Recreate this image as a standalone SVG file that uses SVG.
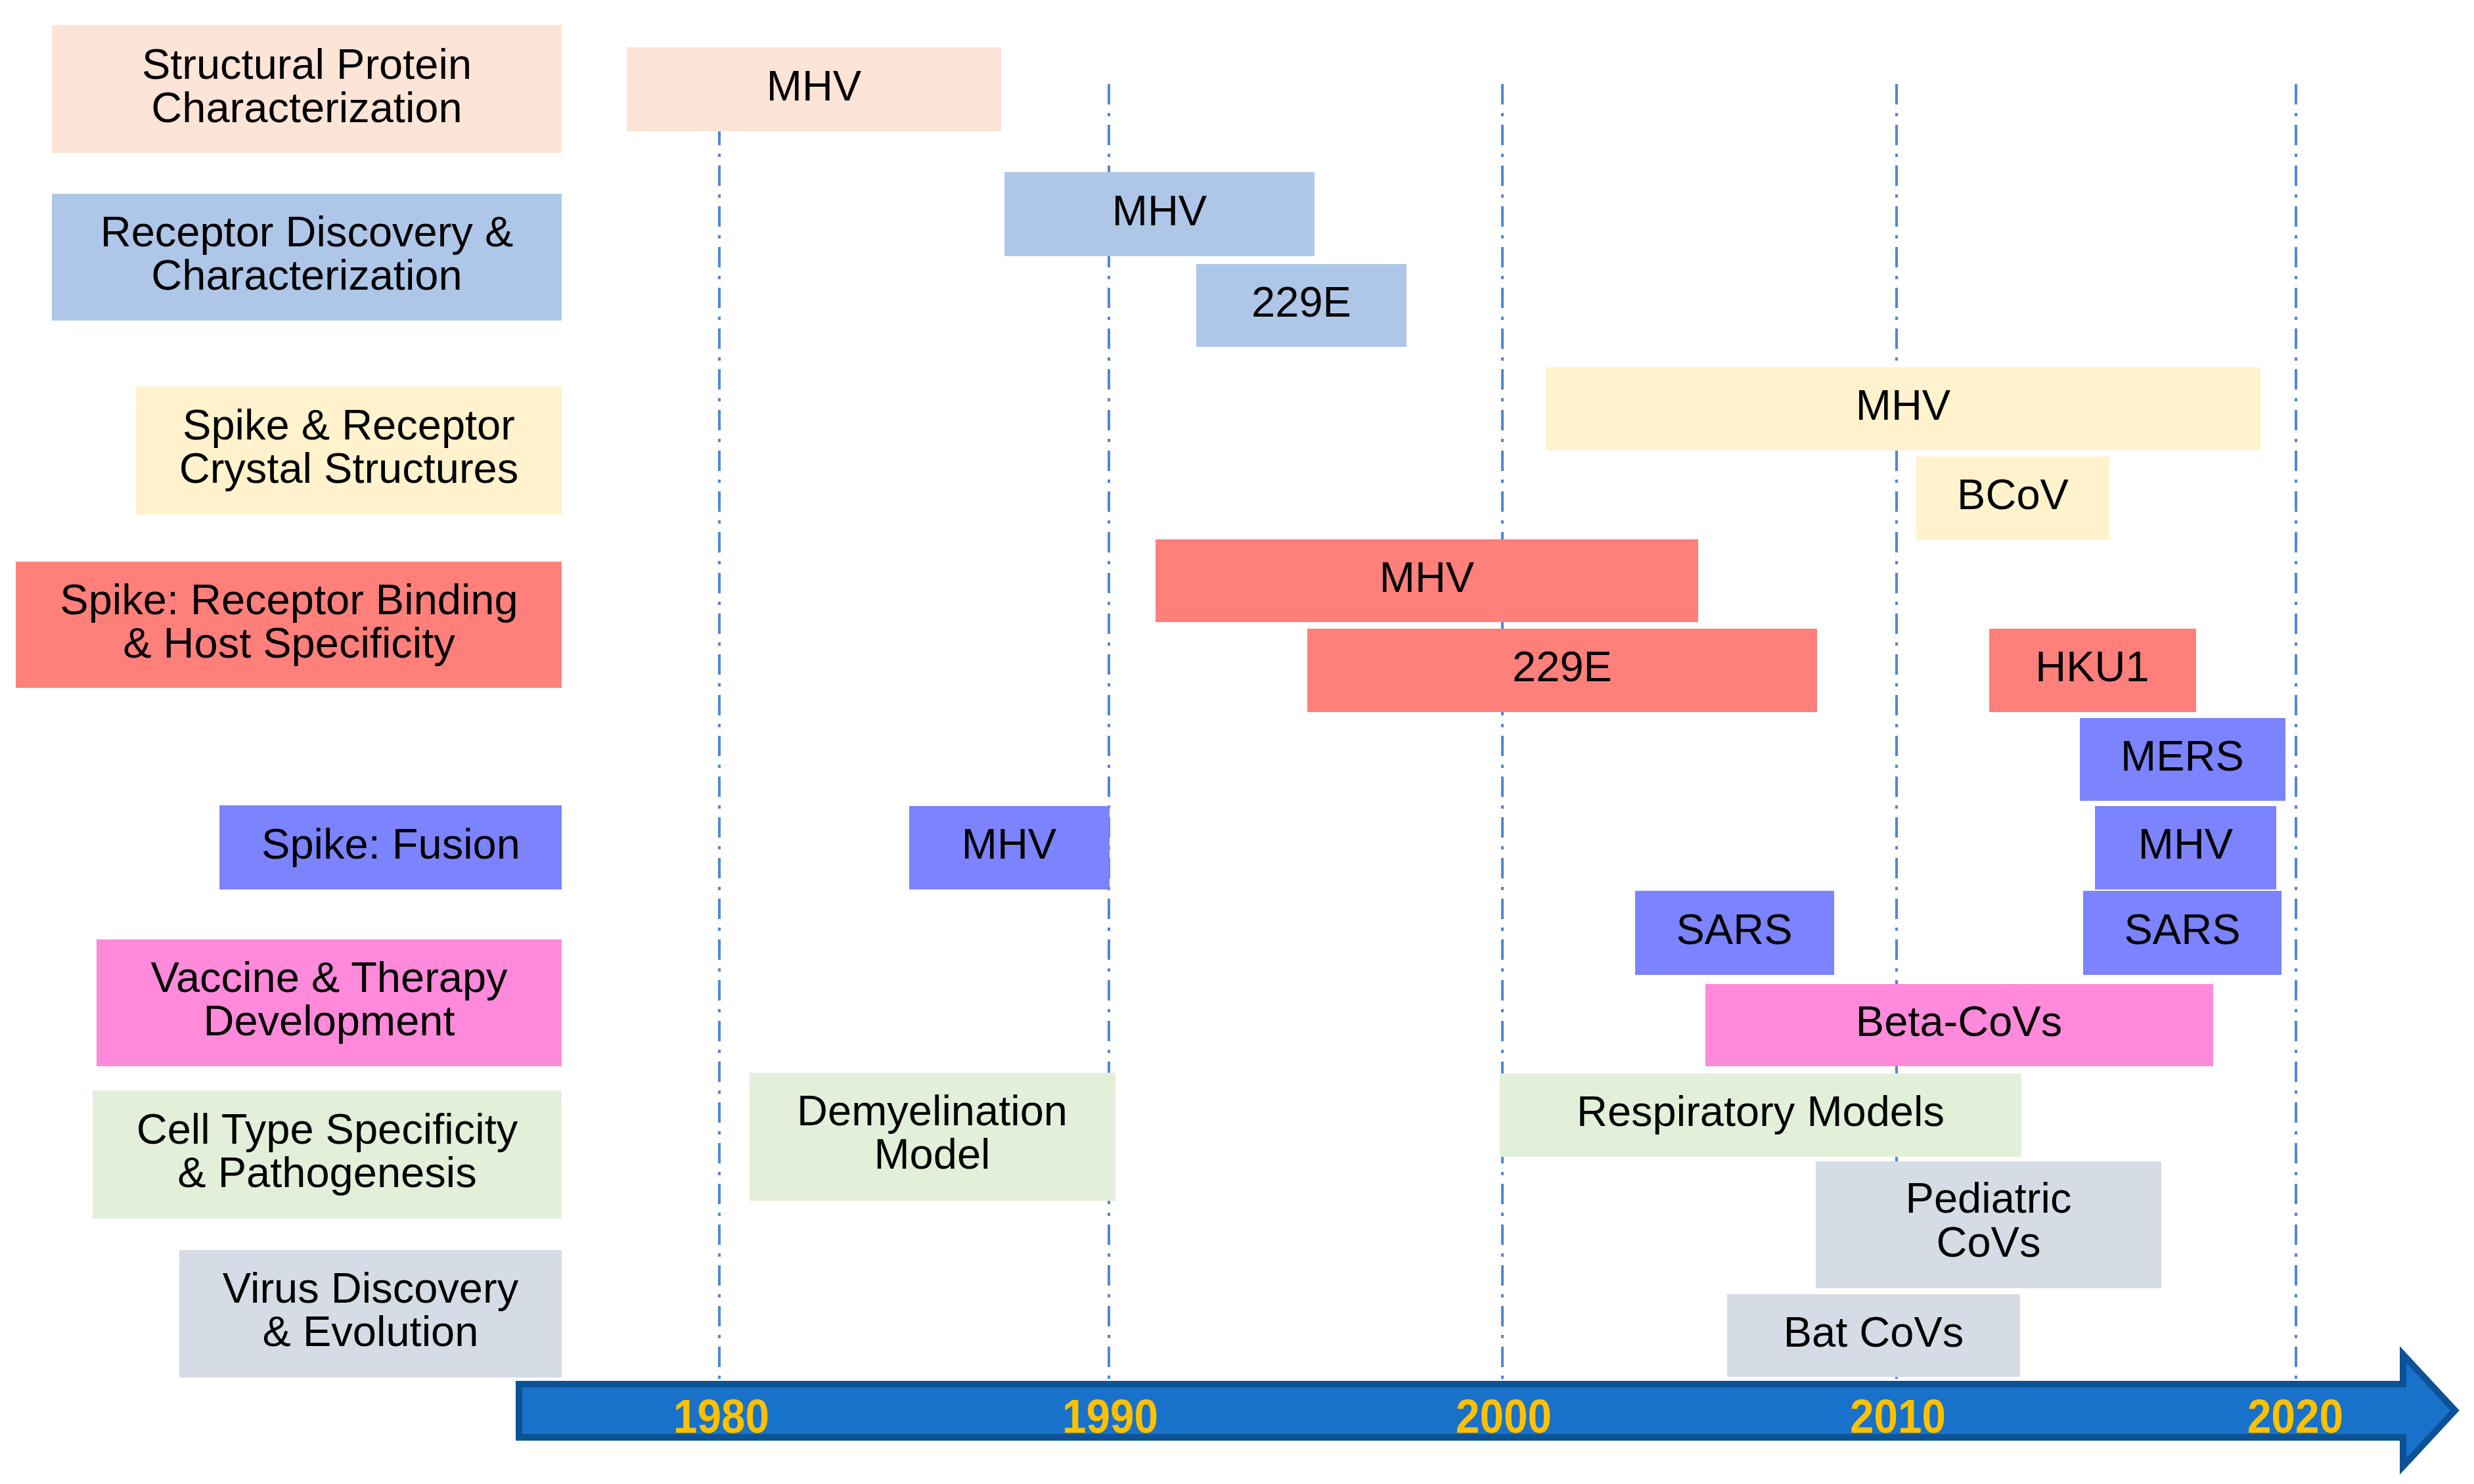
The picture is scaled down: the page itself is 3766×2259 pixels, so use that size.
<svg xmlns="http://www.w3.org/2000/svg" width="3766" height="2259" viewBox="0 0 3766 2259">
<style>
  text { font-family: "Liberation Sans", Arial, sans-serif; font-size: 65px; fill: #000; text-anchor: middle; }
  .yr { font-weight: bold; font-size: 72px; fill: #FFC000; }
  .grid { stroke: #4F87D8; stroke-width: 4; stroke-dasharray: 31 13 5 13; fill: none; }
  .peach { fill: #FCE4D6; }
  .lblue { fill: #AEC7E9; }
  .yellow { fill: #FFF2CC; }
  .red { fill: #FF7F7B; }
  .violet { fill: #7C83FE; }
  .pink { fill: #FF89DA; }
  .green { fill: #E2F0D9; }
  .gray { fill: #D6DCE5; }
</style>
<rect width="3766" height="2259" fill="#FFFFFF"/>

<g id="gridlines">
  <line class="grid" x1="1095" y1="128" x2="1095" y2="2102"/>
  <line class="grid" x1="1688" y1="128" x2="1688" y2="2102"/>
  <line class="grid" x1="2287" y1="128" x2="2287" y2="2102"/>
  <line class="grid" x1="2887" y1="128" x2="2887" y2="2102"/>
  <line class="grid" x1="3495" y1="128" x2="3495" y2="2102"/>
</g>

<g id="timeline-arrow">
  <polygon points="790,2107 3658,2107 3658,2062 3737,2147 3658,2232 3658,2188 790,2188" fill="#1872C9" stroke="#0C5296" stroke-width="10" stroke-linejoin="miter"/>
  <text class="yr" x="1098" y="2181" textLength="146" lengthAdjust="spacingAndGlyphs">1980</text>
  <text class="yr" x="1690" y="2181" textLength="146" lengthAdjust="spacingAndGlyphs">1990</text>
  <text class="yr" x="2289" y="2181" textLength="146" lengthAdjust="spacingAndGlyphs">2000</text>
  <text class="yr" x="2889" y="2181" textLength="146" lengthAdjust="spacingAndGlyphs">2010</text>
  <text class="yr" x="3494" y="2181" textLength="146" lengthAdjust="spacingAndGlyphs">2020</text>
</g>

<g id="cat-structural">
  <rect class="peach" x="79" y="38" width="776" height="195"/>
  <text x="467" y="120">Structural Protein</text>
  <text x="467" y="186">Characterization</text>
</g>
<g id="cat-receptor">
  <rect class="lblue" x="79" y="295" width="776" height="193"/>
  <text x="467" y="375">Receptor Discovery &amp;</text>
  <text x="467" y="441">Characterization</text>
</g>
<g id="cat-crystal">
  <rect class="yellow" x="207" y="588" width="648" height="195"/>
  <text x="531" y="669">Spike &amp; Receptor</text>
  <text x="531" y="735">Crystal Structures</text>
</g>
<g id="cat-binding">
  <rect class="red" x="24" y="855" width="831" height="192"/>
  <text x="440" y="935">Spike: Receptor Binding</text>
  <text x="440" y="1001">&amp; Host Specificity</text>
</g>
<g id="cat-fusion">
  <rect class="violet" x="334" y="1226" width="521" height="128"/>
  <text x="595" y="1307">Spike: Fusion</text>
</g>
<g id="cat-vaccine">
  <rect class="pink" x="147" y="1430" width="708" height="193"/>
  <text x="501" y="1510">Vaccine &amp; Therapy</text>
  <text x="501" y="1576">Development</text>
</g>
<g id="cat-celltype">
  <rect class="green" x="141" y="1660" width="714" height="195"/>
  <text x="498" y="1741">Cell Type Specificity</text>
  <text x="498" y="1807">&amp; Pathogenesis</text>
</g>
<g id="cat-virus">
  <rect class="gray" x="273" y="1903" width="582" height="194"/>
  <text x="564" y="1983">Virus Discovery</text>
  <text x="564" y="2049">&amp; Evolution</text>
</g>

<g id="bar-structural-mhv">
  <rect class="peach" x="954" y="72" width="570" height="128"/>
  <text x="1239" y="153">MHV</text>
</g>
<g id="bar-receptor-mhv">
  <rect class="lblue" x="1529" y="262" width="472" height="128"/>
  <text x="1765" y="343">MHV</text>
</g>
<g id="bar-receptor-229e">
  <rect class="lblue" x="1821" y="402" width="320" height="126"/>
  <text x="1981" y="482">229E</text>
</g>
<g id="bar-crystal-mhv">
  <rect class="yellow" x="2353" y="559" width="1088" height="126"/>
  <text x="2897" y="639">MHV</text>
</g>
<g id="bar-crystal-bcov">
  <rect class="yellow" x="2917" y="695" width="294" height="127"/>
  <text x="3064" y="775">BCoV</text>
</g>
<g id="bar-binding-mhv">
  <rect class="red" x="1759" y="821" width="826" height="126"/>
  <text x="2172" y="901">MHV</text>
</g>
<g id="bar-binding-229e">
  <rect class="red" x="1990" y="957" width="776" height="127"/>
  <text x="2378" y="1037">229E</text>
</g>
<g id="bar-binding-hku1">
  <rect class="red" x="3028" y="957" width="315" height="127"/>
  <text x="3185" y="1037">HKU1</text>
</g>
<g id="bar-fusion-mers">
  <rect class="violet" x="3166" y="1093" width="313" height="126"/>
  <text x="3322" y="1173">MERS</text>
</g>
<g id="bar-fusion-mhv-early">
  <rect class="violet" x="1384" y="1227" width="305" height="127"/>
  <text x="1536" y="1307">MHV</text>
</g>
<g id="bar-fusion-mhv-late">
  <rect class="violet" x="3189" y="1227" width="276" height="127"/>
  <text x="3327" y="1307">MHV</text>
</g>
<g id="bar-fusion-sars-early">
  <rect class="violet" x="2489" y="1356" width="303" height="128"/>
  <text x="2640" y="1437">SARS</text>
</g>
<g id="bar-fusion-sars-late">
  <rect class="violet" x="3171" y="1356" width="302" height="128"/>
  <text x="3322" y="1437">SARS</text>
</g>
<g id="bar-vaccine-betacovs">
  <rect class="pink" x="2596" y="1498" width="773" height="125"/>
  <text x="2982" y="1577">Beta-CoVs</text>
</g>
<g id="bar-celltype-demyelination">
  <rect class="green" x="1141" y="1633" width="557" height="195"/>
  <text x="1419" y="1713">Demyelination</text>
  <text x="1419" y="1779">Model</text>
</g>
<g id="bar-celltype-respiratory">
  <rect class="green" x="2283" y="1634" width="794" height="127"/>
  <text x="2680" y="1714">Respiratory Models</text>
</g>
<g id="bar-virus-pediatric">
  <rect class="gray" x="2764" y="1768" width="526" height="193"/>
  <text x="3027" y="1846">Pediatric</text>
  <text x="3027" y="1913">CoVs</text>
</g>
<g id="bar-virus-bat">
  <rect class="gray" x="2629" y="1970" width="446" height="126"/>
  <text x="2852" y="2050">Bat CoVs</text>
</g>
</svg>
